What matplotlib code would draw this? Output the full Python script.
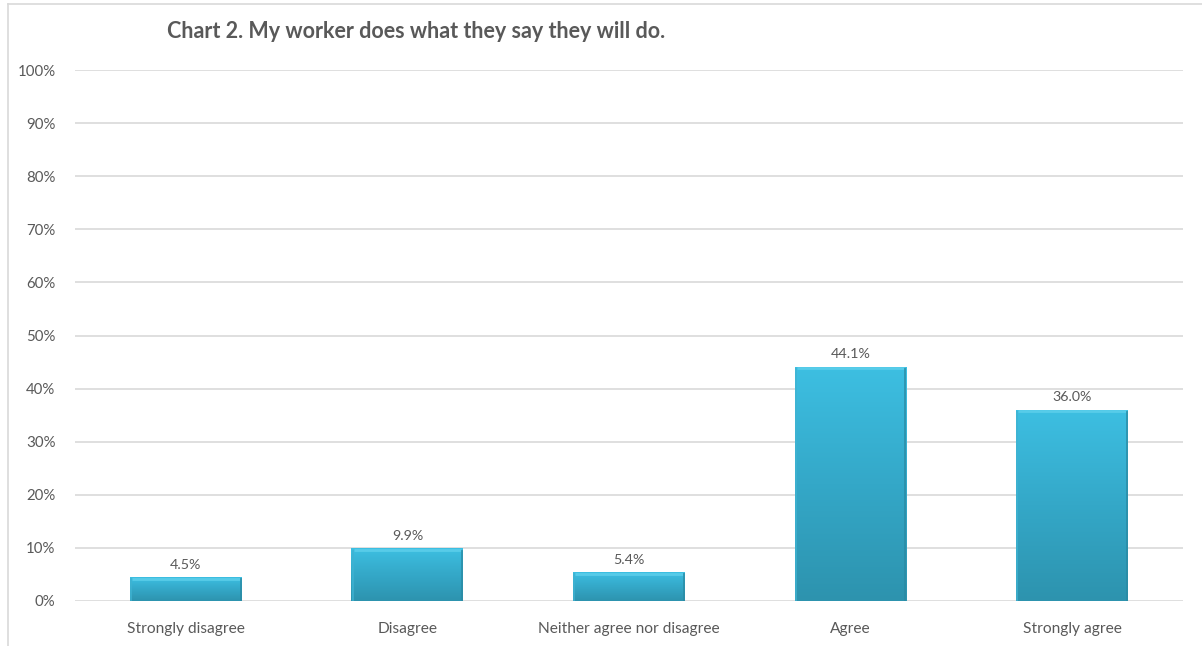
import numpy as np
import matplotlib
matplotlib.use("Agg")
import matplotlib.pyplot as plt
from matplotlib.lines import Line2D
from matplotlib.colors import LinearSegmentedColormap

plt.rcParams['font.family'] = ['Lato', 'DejaVu Sans']

categories = ["Strongly disagree", "Disagree", "Neither agree nor disagree",
              "Agree", "Strongly agree"]
values = [4.5, 9.9, 5.4, 44.1, 36.0]
title = "Chart 2. My worker does what they say they will do."

text_grey = "#595959"
grid_grey = "#d9d9d9"

fig = plt.figure(figsize=(12.02, 6.46), dpi=100)
ax = fig.add_axes([75 / 1202, 45 / 646, 1108 / 1202, 531 / 646])

x = np.arange(len(categories))
width = 0.505

# vertical gradient for the bar fill: light cyan on top, deeper teal below
grad = LinearSegmentedColormap.from_list("bar", ["#2d93ae", "#34a8c8", "#3dbfe2"])
ramp = np.linspace(0, 1, 256).reshape(-1, 1)

bars = ax.bar(x, values, width=width, color="none", edgecolor="none", zorder=3)
for b, v in zip(bars, values):
    x0, x1 = b.get_x(), b.get_x() + b.get_width()
    im = ax.imshow(ramp, cmap=grad, aspect="auto", origin="lower",
                   extent=[x0, x1, 0, v], zorder=3, interpolation="bicubic")
    im.set_clip_path(b)
    # soft bevel along the top and the sides
    ax.plot([x0 + 0.01, x1 - 0.01], [v - 0.3, v - 0.3], color="#5fd0ec",
            lw=2, zorder=4, solid_capstyle="butt", alpha=0.8)
    ax.plot([x1 - 0.005, x1 - 0.005], [0, v - 0.4], color="#2a8aa3",
            lw=1.3, zorder=4, alpha=0.8)
    ax.plot([x0 + 0.005, x0 + 0.005], [0, v - 0.4], color="#3fb3d2",
            lw=1.3, zorder=4, alpha=0.8)
    ax.text(b.get_x() + b.get_width() / 2, v + 1.2, f"{v:.1f}%",
            ha="center", va="bottom", fontsize=10.3, color=text_grey, zorder=5)

ax.set_xlim(-0.5, len(categories) - 0.5)
ax.set_ylim(0, 100)
ax.set_yticks(np.arange(0, 101, 10))
ax.set_yticklabels([f"{t}%" for t in range(0, 101, 10)])
ax.set_xticks(x)
ax.set_xticklabels(categories)
ax.tick_params(axis="both", length=0, colors=text_grey)
ax.tick_params(axis="y", pad=14, labelsize=10.8)
ax.tick_params(axis="x", pad=15, labelsize=11.2)
ax.grid(axis="y", color=grid_grey, lw=1.2, zorder=0)
ax.set_axisbelow(True)
for s in ax.spines.values():
    s.set_visible(False)

fig.text(167 / 1202, 1 - 32 / 646, title, fontsize=15.5, fontweight="bold",
         color=text_grey, ha="left", va="center")

# outer chart frame
fig.add_artist(Line2D([8 / 1202, 8 / 1202], [0, 1 - 4 / 646],
                      transform=fig.transFigure, color=grid_grey, lw=1.2))
fig.add_artist(Line2D([8 / 1202, 1], [1 - 4 / 646, 1 - 4 / 646],
                      transform=fig.transFigure, color=grid_grey, lw=1.2))

fig.savefig("out.png", dpi=100)
